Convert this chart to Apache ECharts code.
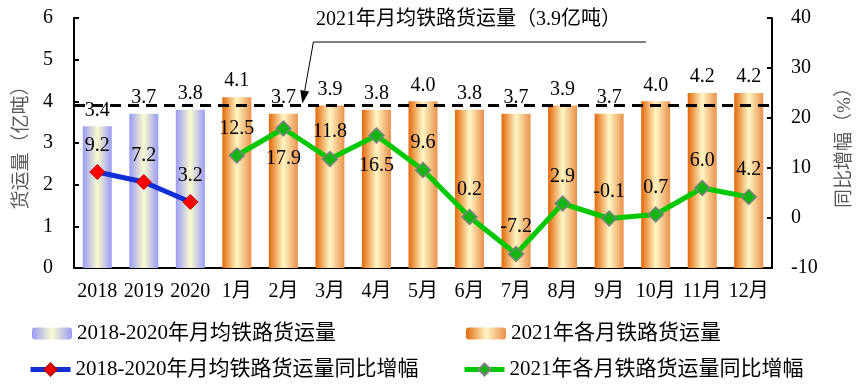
<!DOCTYPE html>
<html>
<head>
<meta charset="utf-8">
<script src="https://cdn.jsdelivr.net/npm/echarts@6/dist/echarts.min.js"></script>
<style>html,body{margin:0;padding:0;background:#fff;}#c{width:865px;height:384px;}</style>
</head>
<body>
<div id="c"></div>
<script>
const categories = ['2018','2019','2020','1月','2月','3月','4月','5月','6月','7月','8月','9月','10月','11月','12月'];
const avgVolume = [3.4, 3.7, 3.8];                 // 2018-2020 monthly avg (亿吨)
const monthVolume2021 = [4.1, 3.7, 3.9, 3.8, 4.0, 3.8, 3.7, 3.9, 3.7, 4.0, 4.2, 4.2];
const avgGrowth = [9.2, 7.2, 3.2];                 // %
const monthGrowth2021 = [12.5, 17.9, 11.8, 16.5, 9.6, 0.2, -7.2, 2.9, -0.1, 0.7, 6.0, 4.2];
const avg2021 = 3.9;
const leftTicks = {min: 0, max: 6, interval: 1};
const rightTicks = {min: -10, max: 40, interval: 10};
const labelsBelow = ['2月', '4月'];

const FONT = '"Liberation Serif", "Times New Roman", "Noto Sans CJK SC", serif';
const FS = 20;
const nAvg = avgVolume.length;
const pad = n => Array(n).fill('-');

const barAvgData = avgVolume.concat(pad(monthVolume2021.length));
const bar2021Data = pad(nAvg).concat(monthVolume2021);
const lineAvgData = avgGrowth.concat(pad(monthGrowth2021.length));
const line2021Data = pad(nAvg).concat(monthGrowth2021.map((v, i) => {
  const cat = categories[nAvg + i];
  if (labelsBelow.includes(cat)) {
    return {value: v, label: {position: 'bottom', distance: 12}};
  }
  return v;
}));

const blueGrad = new echarts.graphic.LinearGradient(0, 0, 1, 0, [
  {offset: 0, color: '#9a9af6'}, {offset: 0.5, color: '#fbfbd0'}, {offset: 1, color: '#9a9af6'}
]);
const orangeGrad = new echarts.graphic.LinearGradient(0, 0, 1, 0, [
  {offset: 0, color: '#e3680a'}, {offset: 0.5, color: '#fff6c4'}, {offset: 1, color: '#e9914a'}
]);

const fmt = p => (typeof p.value === 'number' ? p.value : Number(p.value)).toFixed(1);
const labelStyle = {show: true, fontFamily: FONT, fontSize: FS, color: '#000', formatter: fmt};

const legendText = {fontFamily: FONT, fontSize: 21, color: '#000'};

const chart = echarts.init(document.getElementById('c'));
chart.setOption({
  animation: false,
  backgroundColor: '#fff',
  textStyle: {fontFamily: FONT},
  grid: {left: 74, right: 93, top: 18, bottom: 116},
  legend: [
    {left: 32, top: 323, padding: 0, itemWidth: 40, itemHeight: 12, textStyle: legendText, data: ['2018-2020年月均铁路货运量']},
    {left: 466, top: 323, padding: 0, itemWidth: 40, itemHeight: 12, textStyle: legendText, data: ['2021年各月铁路货运量']},
    {left: 28, top: 359, padding: 0, itemWidth: 40, itemHeight: 15, textStyle: legendText, lineStyle: {width: 'inherit'}, data: ['2018-2020年月均铁路货运量同比增幅']},
    {left: 462, top: 359, padding: 0, itemWidth: 40, itemHeight: 15, textStyle: legendText, lineStyle: {width: 'inherit'}, data: ['2021年各月铁路货运量同比增幅']}
  ],
  xAxis: {
    type: 'category',
    data: categories,
    axisLine: {lineStyle: {color: '#000', width: 2}},
    axisTick: {inside: true, length: 6, lineStyle: {color: '#000', width: 2}},
    axisLabel: {fontFamily: FONT, fontSize: FS, color: '#000', margin: 14, interval: 0}
  },
  yAxis: [
    {
      type: 'value', min: leftTicks.min, max: leftTicks.max, interval: leftTicks.interval,
      name: '货运量（亿吨）', nameLocation: 'middle', nameGap: 42, nameRotate: 90,
      nameTextStyle: {fontFamily: FONT, fontSize: 19, color: '#595959'},
      axisLine: {show: true, lineStyle: {color: '#000', width: 2}},
      axisTick: {show: true, inside: true, length: 5, lineStyle: {color: '#000', width: 2}},
      axisLabel: {fontFamily: FONT, fontSize: FS, color: '#000', margin: 21},
      splitLine: {show: false}
    },
    {
      type: 'value', min: rightTicks.min, max: rightTicks.max, interval: rightTicks.interval,
      name: '同比增幅（%）', nameLocation: 'middle', nameGap: 64, nameRotate: 90,
      nameTextStyle: {fontFamily: FONT, fontSize: 19, color: '#595959'},
      axisLine: {show: true, lineStyle: {color: '#000', width: 2}},
      axisTick: {show: true, inside: true, length: 5, lineStyle: {color: '#000', width: 2}},
      axisLabel: {fontFamily: FONT, fontSize: FS, color: '#000', margin: 19},
      splitLine: {show: false}
    }
  ],
  series: [
    {
      name: '2018-2020年月均铁路货运量', type: 'bar', stack: 'v', barWidth: 29,
      data: barAvgData, itemStyle: {color: blueGrad},
      label: Object.assign({position: 'top', distance: 6}, labelStyle),
      z: 2
    },
    {
      name: '2021年各月铁路货运量', type: 'bar', stack: 'v', barWidth: 29,
      data: bar2021Data, itemStyle: {color: orangeGrad},
      label: Object.assign({position: 'top', distance: 6}, labelStyle),
      markLine: {
        silent: true, symbol: 'none', label: {show: false},
        lineStyle: {color: '#000', width: 3, type: [11, 7]},
        data: [{yAxis: avg2021}]
      },
      z: 2
    },
    {
      name: '2018-2020年月均铁路货运量同比增幅', type: 'line', yAxisIndex: 1,
      data: lineAvgData, symbol: 'diamond', symbolSize: 15,
      lineStyle: {color: '#0f2ed6', width: 5},
      itemStyle: {color: '#ff0000', borderColor: '#c00000', borderWidth: 1},
      label: Object.assign({position: 'top', distance: 8}, labelStyle),
      z: 5
    },
    {
      name: '2021年各月铁路货运量同比增幅', type: 'line', yAxisIndex: 1,
      data: line2021Data, symbol: 'diamond', symbolSize: 15,
      lineStyle: {color: '#00c800', width: 5},
      itemStyle: {color: '#14b414', borderColor: '#808080', borderWidth: 1.5},
      label: Object.assign({position: 'top', distance: 9}, labelStyle),
      z: 5
    }
  ]
});

// Annotation with leader arrow pointing to the 2021 average line
const yAvg = chart.convertToPixel({yAxisIndex: 0}, avg2021);
const x2 = chart.convertToPixel({xAxisIndex: 0}, '2月');
const tip = [x2 + 19, yAvg - 2];
const start = [tip[0] + 11, 42];
const dx = tip[0] - start[0], dy = tip[1] - start[1];
const len = Math.sqrt(dx * dx + dy * dy);
const ux = dx / len, uy = dy / len;
const hl = 13, hw = 4.5;
const base = [tip[0] - ux * hl, tip[1] - uy * hl];
chart.setOption({
  graphic: [
    {type: 'text', left: 316, top: 10, z: 10,
      style: {text: '2021年月均铁路货运量（3.9亿吨）', font: '20px ' + FONT, fill: '#000'}},
    {type: 'polyline', z: 10, shape: {points: [[646, 42], start, base]},
      style: {stroke: '#000', lineWidth: 1, fill: null}},
    {type: 'polygon', z: 10, shape: {points: [tip, [base[0] - uy * hw, base[1] + ux * hw], [base[0] + uy * hw, base[1] - ux * hw]]},
      style: {fill: '#000'}}
  ]
});
</script>
</body>
</html>
